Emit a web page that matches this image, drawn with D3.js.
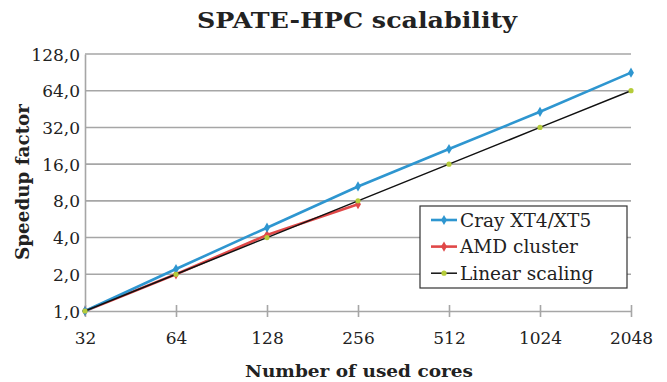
<!DOCTYPE html>
<html><head><meta charset="utf-8">
<script src="https://cdn.jsdelivr.net/npm/d3@7"></script>
<style>body{margin:0;background:#fff}svg{display:block}</style>
</head><body><svg id="c" width="667" height="382"></svg>
<script>
const cores = [32, 64, 128, 256, 512, 1024, 2048];
const xTickLabels = ["32","64","128","256","512","1024","2048"];
const yTicks = [1, 2, 4, 8, 16, 32, 64, 128];
const yTickLabels = ["1,0","2,0","4,0","8,0","16,0","32,0","64,0","128,0"];
const crayValues = [1, 2.21, 4.82, 10.5, 21.3, 43, 90];
const amdCores = [32, 64, 128, 256];
const amdValues = [1, 2.0, 4.2, 7.5];
const linearValues = [1, 2, 4, 8, 16, 32, 64];
const seriesNames = ["Cray XT4/XT5", "AMD cluster", "Linear scaling"];

const FONT = "DejaVu Serif";
const svg = d3.select("#c");
const x = d3.scaleLog().base(2).domain([32, 2048]).range([85, 631]);
const y = d3.scaleLog().base(2).domain([1, 128]).range([311, 54]);
const grid = "#a6a6a6";
const ink = "#222";

// gridlines
svg.append("g").selectAll("line").data(yTicks.slice(1)).join("line")
  .attr("x1", 85).attr("x2", 631).attr("y1", d => y(d)).attr("y2", d => y(d))
  .attr("stroke", grid).attr("stroke-width", 1.6);
// y axis (D3 axis, labels restyled)
const yAxis = svg.append("g").attr("transform", "translate(85,0)")
  .call(d3.axisLeft(y).tickValues(yTicks).tickFormat((d, i) => yTickLabels[i]).tickSize(0).tickPadding(5));
yAxis.attr("font-family", FONT);
yAxis.select(".domain").attr("stroke", grid).attr("stroke-width", 1.6);
yAxis.selectAll("text").attr("font-size", 17).attr("font-family", FONT).attr("fill", ink).attr("dy", "0.36em");
// x axis
const xAxis = svg.append("g").attr("transform", "translate(0,311)")
  .call(d3.axisBottom(x).tickValues(cores).tickFormat((d, i) => xTickLabels[i]).tickSizeInner(6).tickSizeOuter(0).tickPadding(15));
xAxis.attr("font-family", FONT);
xAxis.select(".domain").attr("stroke", grid).attr("stroke-width", 1.6);
xAxis.selectAll(".tick line").attr("stroke", grid).attr("stroke-width", 1.6).attr("y1", -6).attr("y2", 6);
xAxis.selectAll("text").attr("font-size", 17).attr("font-family", FONT).attr("fill", ink);

const line = d3.line().x(d => x(d[0])).y(d => y(d[1]));
const diamond = d3.symbol().type(d3.symbolDiamond).size(30);

const lin = cores.map((c, i) => [c, linearValues[i]]).filter(d => d[1] !== undefined);
const amd = amdCores.map((c, i) => [c, amdValues[i]]);
svg.append("path").datum(amd).attr("d", line).attr("fill", "none").attr("stroke", "#e04848").attr("stroke-width", 2.6);
svg.append("g").selectAll("path").data(amd).join("path").attr("d", diamond)
  .attr("transform", d => `translate(${x(d[0])},${y(d[1])})`).attr("fill", "#e04848");
const cray = cores.map((c, i) => [c, crayValues[i]]);
svg.append("path").datum(cray).attr("d", line).attr("fill", "none").attr("stroke", "#2e96d0").attr("stroke-width", 2.6);
svg.append("g").selectAll("path").data(cray).join("path").attr("d", diamond)
  .attr("transform", d => `translate(${x(d[0])},${y(d[1])})`).attr("fill", "#2e96d0");
svg.append("path").datum(lin).attr("d", line).attr("fill", "none").attr("stroke", "#111").attr("stroke-width", 1.5);
svg.append("g").selectAll("circle").data(lin).join("circle")
  .attr("cx", d => x(d[0])).attr("cy", d => y(d[1])).attr("r", 2.6).attr("fill", "#b5cc3a");

// legend
const lg = svg.append("g");
lg.append("rect").attr("x", 420).attr("y", 206).attr("width", 207).attr("height", 82)
  .attr("fill", "#fff").attr("stroke", "#333").attr("stroke-width", 1.2);
const lcol = ["#2e96d0", "#e04848", "#111"];
seriesNames.forEach((n, i) => {
  const cy = 220 + i * 26.6;
  lg.append("line").attr("x1", 431).attr("x2", 457).attr("y1", cy).attr("y2", cy)
    .attr("stroke", lcol[i]).attr("stroke-width", i < 2 ? 2.6 : 1.5);
  if (i < 2) lg.append("path").attr("d", diamond).attr("transform", `translate(444,${cy})`).attr("fill", lcol[i]);
  else lg.append("circle").attr("cx", 444).attr("cy", cy).attr("r", 2.6).attr("fill", "#b5cc3a");
  lg.append("text").attr("x", 460).attr("y", cy + 6.5).attr("font-size", 18.5).attr("font-family", FONT)
    .attr("fill", ink).text(n);
});

// titles
svg.append("text").attr("x", 357).attr("y", 27.5).attr("text-anchor", "middle").attr("font-family", FONT)
  .attr("font-size", 22).attr("font-weight", "bold").attr("fill", ink)
  .attr("textLength", 320).attr("lengthAdjust", "spacingAndGlyphs").text("SPATE-HPC scalability");
svg.append("text").attr("x", 359).attr("y", 377).attr("text-anchor", "middle").attr("font-family", FONT)
  .attr("font-size", 17.5).attr("font-weight", "bold").attr("fill", ink)
  .attr("textLength", 228).attr("lengthAdjust", "spacingAndGlyphs").text("Number of used cores");
svg.append("text").attr("transform", "translate(29,182) rotate(-90)").attr("text-anchor", "middle").attr("font-family", FONT)
  .attr("font-size", 18).attr("font-weight", "bold").attr("fill", ink)
  .attr("textLength", 156).attr("lengthAdjust", "spacingAndGlyphs").text("Speedup factor");
</script></body></html>
